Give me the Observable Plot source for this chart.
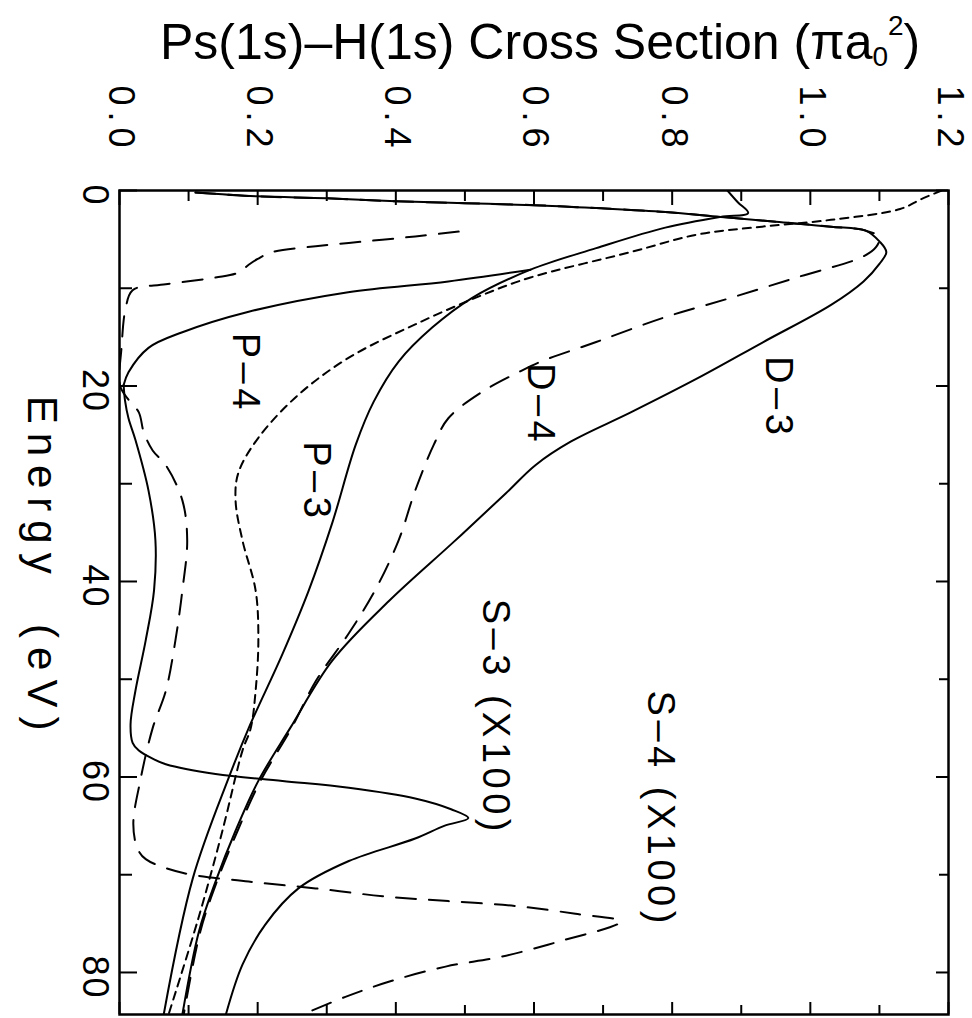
<!DOCTYPE html>
<html><head><meta charset="utf-8">
<script src="https://cdn.jsdelivr.net/npm/d3@7"></script>
<script src="https://cdn.jsdelivr.net/npm/@observablehq/plot@0.6"></script>
<style>
body{margin:0;background:#fff;font-family:"Liberation Sans",Arial,sans-serif;}
#wrap{position:relative;width:972px;height:1018px;overflow:hidden;}
#title{position:absolute;left:160px;top:13px;font-size:50px;white-space:nowrap;color:#000;letter-spacing:0px;}
#title sub{font-size:28px;vertical-align:-7px;line-height:0;}
#title sup{font-size:28px;vertical-align:24px;line-height:0;}
#chart{position:absolute;left:0;top:80px;}
</style></head><body>
<div id="wrap">
<div id="title">Ps(1s)–H(1s) Cross Section (πa<sub>0</sub><sup>2</sup>)</div>
<div id="chart"></div>
</div>
<script>
// [energy (eV), cross section (pi a0^2)]
const bundle = [[0.2,0.11],[0.6,0.2],[0.8,0.3],[1.1,0.4],[1.3,0.5],[1.5,0.6],[1.8,0.69],[2.2,0.79],[2.7,0.87],[3.2,0.95],[3.7,1.03],[4.1,1.08]];
const curveD3 = [[5.2,1.10],[6.3,1.11],[7.5,1.10],[9.3,1.077],[11.7,1.03],[15.5,0.932],[19.2,0.837],[22.7,0.74],[25.7,0.653],[28.1,0.602],[31,0.559],[36,0.483],[42,0.39],[48.1,0.308],[55,0.247],[60.4,0.201],[65.5,0.168],[70.7,0.139],[75.8,0.115],[84.3,0.091]];
const curveD4 = [[4.8,1.10],[5.8,1.095],[6.8,1.075],[8.9,0.98],[11,0.884],[13,0.788],[15.5,0.69],[17.5,0.61],[18.5,0.58],[20.6,0.525],[23.3,0.476],[26,0.455],[30.7,0.428],[35.8,0.404],[40.9,0.37],[45.3,0.332],[50.2,0.284],[55,0.249],[60.4,0.204],[65.5,0.171],[70.7,0.141],[75.8,0.117],[84.3,0.093]];
const curveP3 = [[0,0.88],[1.2,0.895],[2.3,0.91],[2.7,0.87],[3.8,0.79],[5.9,0.69],[8.1,0.595],[11,0.51],[14,0.453],[17.5,0.404],[21.6,0.368],[26,0.342],[34,0.308],[40.9,0.274],[47.4,0.236],[55,0.187],[60.1,0.158],[70.4,0.106],[84.3,0.064]];
const curveP4 = [[8.1,0.595],[9.3,0.476],[10.4,0.331],[12.4,0.187],[14.5,0.091],[16.1,0.042],[18.6,0.013],[19.9,0.006]];
const curveS3 = [[19.9,0.006],[21.5,0.008],[23.3,0.013],[25.5,0.023],[30.7,0.042],[35.8,0.052],[40.9,0.05],[46,0.038],[51.2,0.023],[54.6,0.016],[56.5,0.019],[57.3,0.028],[58.2,0.05],[58.7,0.067],[59.7,0.139],[60.4,0.236],[61.1,0.332],[62.2,0.428],[63.3,0.48],[64.2,0.505],[65,0.47],[66.3,0.428],[68.6,0.332],[71.4,0.259],[75.1,0.211],[79.2,0.178],[84.3,0.154]];
const curveS4 = [[4.2,0.491],[4.7,0.428],[5.2,0.356],[5.7,0.284],[6.3,0.221],[7.0,0.2],[7.6,0.187],[8.4,0.172],[8.9,0.139],[9.6,0.067],[10.2,0.019],[12,0.009],[16,0.003],[20,0.001],[21.4,0.013],[22.7,0.028],[24.7,0.035],[26.6,0.048],[28.1,0.067],[31.7,0.091],[35.8,0.098],[40.9,0.091],[46,0.081],[51.2,0.067],[55,0.048],[60.4,0.03],[64.8,0.02],[67.3,0.026],[68.4,0.038],[69.8,0.091],[70.7,0.187],[71.4,0.284],[72.2,0.381],[72.7,0.476],[73.2,0.573],[74,0.66],[74.8,0.725],[76.8,0.638],[78.4,0.552],[79.4,0.472],[80.9,0.392],[82.5,0.327],[84.3,0.265]];
const curveShort = [[0,1.19],[0.9,1.16],[1.9,1.13],[3.0,1.03],[3.7,0.93],[4.5,0.837],[6.3,0.74],[8.9,0.595],[10.7,0.525],[13.7,0.428],[17.1,0.332],[20.9,0.259],[25.3,0.201],[28.9,0.172],[31.7,0.168],[35.8,0.178],[40.9,0.197],[46,0.201],[51.2,0.197],[55,0.19],[57.3,0.178],[65.5,0.149],[74.5,0.114],[84.3,0.071]];

const curveLabels = [
  {t:"D–3", e:21.2, cs:0.954},
  {t:"D–4", e:21.9, cs:0.609},
  {t:"P–4", e:18.7, cs:0.182},
  {t:"P–3", e:29.8, cs:0.284},
  {t:"S–3 (X100)", e:53.9, cs:0.544},
  {t:"S–4 (X100)", e:63.3, cs:0.783}
];
const xLabelTicks = [0,0.2,0.4,0.6,0.8,1.0,1.2];
const xMinorTicks = [0.1,0.3,0.5,0.7,0.9,1.1];
const yLabelTicks = [0,20,40,60,80];
const yMinorTicks = [10,30,50,70];

const W=972, H=938, mT=110, mB=4, mL=119, mR=24;
const PW = W-mL-mR, PH = H-mT-mB;
const solid = {stroke:"black", strokeWidth:2, curve:"catmull-rom", clip:true};
const longDash = {...solid, strokeDasharray:"20,13"};
const shortDash = {...solid, strokeDasharray:"8,6"};
const X = d=>d[1], Y = d=>d[0];
const rot = {rotate:90, textAnchor:"middle", lineAnchor:"middle", fill:"black"};

const chart = Plot.plot({
  width:W, height:H, marginTop:mT, marginBottom:mB, marginLeft:mL, marginRight:mR,
  x:{domain:[0,1.2], axis:null},
  y:{domain:[0,84.3], reverse:true, axis:null},
  style:{fontFamily:"'Liberation Sans', Arial, sans-serif", background:"white", color:"black"},
  marks:[
    Plot.line([...bundle, ...curveD3], {x:X, y:Y, ...solid}),
    Plot.line([...bundle, ...curveD4], {x:X, y:Y, ...longDash}),
    Plot.line(curveP3, {x:X, y:Y, ...solid}),
    Plot.line(curveP4, {x:X, y:Y, ...solid}),
    Plot.line(curveS3, {x:X, y:Y, ...solid}),
    Plot.line(curveS4, {x:X, y:Y, ...longDash}),
    Plot.line(curveShort, {x:X, y:Y, ...shortDash}),
    // inward ticks on four sides
    Plot.tickX(xLabelTicks, {x:d=>d, insetBottom:PH-15, strokeWidth:2}),
    Plot.tickX(xMinorTicks, {x:d=>d, insetBottom:PH-11, strokeWidth:2}),
    Plot.tickX(xLabelTicks, {x:d=>d, insetTop:PH-12, strokeWidth:2}),
    Plot.tickX(xMinorTicks, {x:d=>d, insetTop:PH-9, strokeWidth:2}),
    Plot.tickY(yLabelTicks, {y:d=>d, insetRight:PW-18, strokeWidth:2}),
    Plot.tickY(yMinorTicks, {y:d=>d, insetRight:PW-13, strokeWidth:2}),
    Plot.tickY(yLabelTicks, {y:d=>d, insetLeft:PW-12, strokeWidth:2}),
    Plot.tickY(yMinorTicks, {y:d=>d, insetLeft:PW-9, strokeWidth:2}),
    Plot.frame({stroke:"black", strokeWidth:2.5}),
    Plot.text(xLabelTicks, {x:d=>d, frameAnchor:"top", dy:-71, dx:1, text:d=>d.toFixed(1), fontSize:36, ...rot, ariaDescription:"xlab"}),
    Plot.text(yLabelTicks, {y:d=>d, frameAnchor:"left", dx:-25, dy:5, text:d=>String(d), fontSize:36, ...rot, ariaDescription:"ylab"}),
    Plot.text(["Energy  (eV)"], {frameAnchor:"left", dx:-78, dy:-35, fontSize:42, ...rot, ariaDescription:"ename"}),
    Plot.text(curveLabels, {x:"cs", y:"e", text:"t", fontSize:38, ...rot, ariaDescription:"clab"})
  ]
});
const spacing = (desc, ls) => d3.select(chart).selectAll(`g[aria-description="${desc}"] text`)
  .style("letter-spacing", ls).style("white-space", "pre");
spacing("xlab", "6px");
spacing("ylab", "2px");
spacing("ename", "9px");
spacing("clab", "4.5px");
document.getElementById("chart").appendChild(chart);
</script>
</body></html>
